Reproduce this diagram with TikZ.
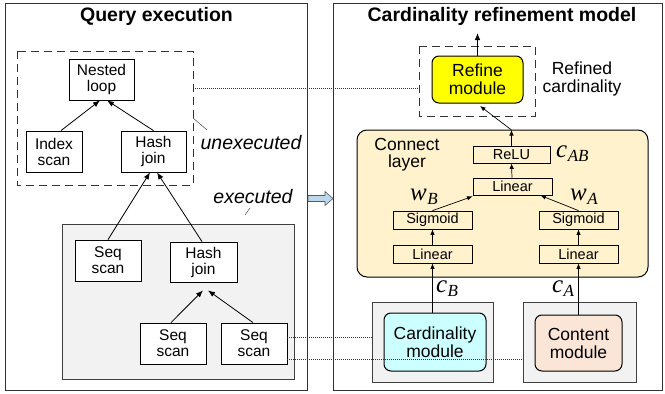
\documentclass[tikz,border=0pt]{standalone}
\usepackage{fontspec}
\setmainfont{Liberation Sans}
\newfontfamily\tmsfont{Liberation Serif}
\usetikzlibrary{arrows.meta}
\definecolor{clfill}{HTML}{FFF2CC}
\definecolor{grayfill}{HTML}{F2F2F2}
\definecolor{refyellow}{HTML}{FFFF00}
\definecolor{cardcyan}{HTML}{CCFFFF}
\definecolor{contpeach}{HTML}{FBE5D6}
\definecolor{blockblue}{HTML}{BDD7EE}
\newcommand{\mlab}[2]{{\tmsfont\itshape\fontsize{25}{25}\selectfont #1}\kern0.5pt\raisebox{-4pt}{\tmsfont\itshape\fontsize{17}{17}\selectfont #2}}
\begin{document}
\begin{tikzpicture}[x=1pt,y=-1pt,
  outerbox/.style={draw=black!80, line width=0.9pt},
  qbox/.style={draw, line width=0.8pt, fill=white, inner sep=0pt, align=center, font=\fontsize{15.5}{16}\selectfont},
  lbox/.style={draw, line width=0.8pt, inner sep=0pt, align=center, font=\fontsize{14.5}{15}\selectfont},
  modbox/.style={draw, line width=1pt, rounded corners=7pt, inner sep=0pt, align=center, font=\fontsize{17.5}{18}\selectfont},
  arr/.style={-{Latex[length=7pt,width=5.5pt]}, line width=0.8pt},
  sarr/.style={-{Latex[length=5.5pt,width=4.5pt]}, line width=0.7pt},
  dotline/.style={line width=0.6pt, dash pattern=on 1pt off 1pt, black!80},
  dashbox/.style={draw=black!80, line width=0.8pt, dash pattern=on 8pt off 5pt},
  titlefont/.style={font=\bfseries\fontsize{19.5}{20}\selectfont},
  itlab/.style={font=\itshape\fontsize{19.5}{20}\selectfont, inner sep=0pt}
]
\useasboundingbox (0,0) rectangle (665,394);

% ---------- Left panel ----------
\draw[outerbox] (5,3) rectangle (307,390);
\node[titlefont] (qtitle) at (156.5,16) {Query execution};

\draw[dashbox] (17,51) rectangle (193,185);
\node[qbox, minimum width=65pt, minimum height=41pt] (nl) at (101.5,79.5) {Nested\\loop};
\node[qbox, minimum width=56pt, minimum height=41pt] (is) at (54,151.5) {Index\\scan};
\node[qbox, minimum width=65pt, minimum height=41pt] (hj1) at (153.5,151.5) {Hash\\join};

\draw[arr] ([xshift=7pt]is.north) -- ([xshift=-1.5pt]nl.south);
\draw[arr] (hj1.north) -- ([xshift=5.5pt]nl.south);

\node[itlab] (unex) at (251,143) {unexecuted};
\coordinate (u1) at (193,118);
\coordinate (u2) at (207,130);
\draw[line width=0.5pt, black!70] (u1) -- (u2);

\node[itlab] (ex) at (253,197) {executed};
\coordinate (e1) at (245,215);
\coordinate (e2) at (250,208);
\draw[line width=0.5pt, black!70] (e1) -- (e2);

\draw[draw=black!75, fill=grayfill, line width=0.8pt] (62,224) rectangle (294,379);
\node[qbox, minimum width=66pt, minimum height=41pt] (ss1) at (108,260.5) {Seq\\scan};
\node[qbox, minimum width=67pt, minimum height=40pt] (hj2) at (203.5,262) {Hash\\join};
\node[qbox, minimum width=66pt, minimum height=41pt] (ss2) at (173,343.5) {Seq\\scan};
\node[qbox, minimum width=66pt, minimum height=41pt] (ss3) at (254,343.5) {Seq\\scan};

\draw[arr] (ss1.north) -- ([xshift=-3.5pt]hj1.south);
\draw[arr] ([xshift=-1.5pt]hj2.north) -- ([xshift=3.5pt]hj1.south);
\draw[arr] ([xshift=-2pt]ss2.north) -- ([xshift=-0.5pt,yshift=-8pt]hj2.south);
\draw[arr] ([xshift=-1pt]ss3.north) -- ([xshift=4.5pt,yshift=-8pt]hj2.south);

% block arrow between panels
\draw[draw=black!65, fill=blockblue, line width=0.6pt]
  (308,195.5) -- (325,195.5) -- (325,191.5) -- (333,198.5) -- (325,205.5) -- (325,201.5) -- (308,201.5) -- cycle;

% ---------- Right panel ----------
\draw[outerbox] (333,3) rectangle (662,390);
\node[titlefont] (rtitle) at (502,16) {Cardinality refinement model};

\draw[dashbox] (419,46) rectangle (535,116);
\node[modbox, fill=refyellow, minimum width=91pt, minimum height=47pt] (ref) at (477.5,79.5) {Refine\\module};
\coordinate (out) at (477.5,33);
\draw[arr] (ref.north) -- (out);
\node[align=center, font=\fontsize{17.5}{18}\selectfont, inner sep=0pt] (refc) at (582,79) {Refined\\cardinality};

\node[draw, line width=1pt, rounded corners=10pt, fill=clfill, minimum width=291pt, minimum height=147pt, inner sep=0pt] (cl) at (502.5,203.5) {};
\node[align=center, font=\fontsize{17.5}{17}\selectfont, inner sep=0pt] (cltext) at (407,155) {Connect\\layer};

\node[lbox, minimum width=77pt, minimum height=17pt] (relu) at (511.5,154.5) {ReLU};
\node[lbox, minimum width=79pt, minimum height=17pt] (lin) at (512.5,186.5) {Linear};
\node[lbox, minimum width=79pt, minimum height=18pt] (sgB) at (432.5,220) {Sigmoid};
\node[lbox, minimum width=79pt, minimum height=18pt] (sgA) at (578.5,220) {Sigmoid};
\node[lbox, minimum width=79pt, minimum height=18pt] (linB) at (432.5,254) {Linear};
\node[lbox, minimum width=79pt, minimum height=18pt] (linA) at (578.5,254) {Linear};

\node[anchor=west, inner sep=0pt] (cab) at (556,154) {\mlab{c}{AB}};
\node[inner sep=0pt] (wB) at (424,197) {\mlab{w}{B}};
\node[inner sep=0pt] (wA) at (584,197) {\mlab{w}{A}};
\node[inner sep=0pt] (cB) at (447,289) {\mlab{c}{B}};
\node[inner sep=0pt] (cA) at (563,289) {\mlab{c}{A}};

\draw[draw=black!75, fill=grayfill, line width=0.8pt] (372,302) rectangle (493,382);
\draw[draw=black!75, fill=grayfill, line width=0.8pt] (523,302) rectangle (636,382);
\node[modbox, fill=cardcyan, minimum width=102pt, minimum height=58pt] (cm) at (435,342) {Cardinality\\module};
\node[modbox, fill=contpeach, minimum width=87pt, minimum height=56pt] (com) at (578.5,343) {Content\\module};

\draw[sarr] (cm.north -| linB.south) -- (linB.south);
\draw[sarr] (com.north -| linA.south) -- (linA.south);
\draw[sarr] (linB.north) -- (sgB.south);
\draw[sarr] (linA.north) -- (sgA.south);
\draw[sarr] (sgB.north) -- ([yshift=-1pt]lin.south west);
\draw[sarr] (sgA.north) -- ([xshift=-12pt]lin.south east);
\draw[sarr] ([xshift=-0.5pt]lin.north) -- (relu.south);
\coordinate (cltop) at (511.5,130);
\draw[sarr] (relu.north) -- (cltop);
\coordinate (reftip) at (480,106);
\draw[sarr] (cltop) -- (reftip);

% ---------- dotted links ----------
\draw[dotline] (193,88) -- (419,88);
\draw[dotline] (ss3.east |- 0,337) -- (372,337);
\draw[dotline] (ss3.east |- 0,359) -- (523,359);
\end{tikzpicture}
\end{document}
